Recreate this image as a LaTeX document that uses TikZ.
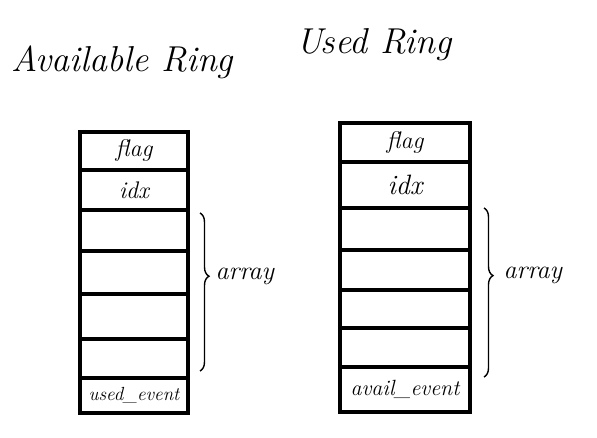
\documentclass[tikz,border=0pt]{standalone}
\usepackage{tikz}
\usetikzlibrary{positioning,calc,decorations.pathreplacing}
\usepackage{xcolor}

\tikzset{
  cell/.style={draw, line width=3.2pt, inner sep=0pt, outer sep=0pt, font=\fontsize{24}{26}\selectfont\itshape},
  ringtitle/.style={font=\fontsize{36}{40}\selectfont\itshape},
  arraybrace/.style={decorate, decoration={brace, amplitude=9pt, aspect=0.4}, line width=1.4pt},
  bracelabel/.style={font=\fontsize{26}{28}\selectfont\itshape, anchor=west}
}

\begin{document}
\begin{tikzpicture}[x=1pt, y=-1pt]
  \useasboundingbox (0,0) rectangle (597,438);

  % titles
  \node[ringtitle] (availtitle) at (122,62) {Available Ring};
  \node[ringtitle] (usedtitle) at (374,45) {Used Ring};

  % available ring
  \node[cell, minimum width=108pt, minimum height=38pt] (aflag) at (134,151) {flag};
  \node[cell, minimum width=108pt, minimum height=40pt, below=0pt of aflag] (aidx) {idx};
  \node[cell, minimum width=108pt, minimum height=41pt, below=0pt of aidx] (aarr1) {};
  \node[cell, minimum width=108pt, minimum height=43pt, below=0pt of aarr1] (aarr2) {};
  \node[cell, minimum width=108pt, minimum height=45pt, below=0pt of aarr2] (aarr3) {};
  \node[cell, minimum width=108pt, minimum height=39pt, below=0pt of aarr3] (aarr4) {};
  \node[cell, minimum width=108pt, minimum height=35pt, below=0pt of aarr4, font=\fontsize{19}{21}\selectfont\itshape] (aevent) {used\_event};

  \coordinate (abtop) at ([xshift=12pt,yshift=-3pt]aarr1.north east);
  \coordinate (abbot) at ([xshift=12pt,yshift=7pt]aarr4.south east);
  \draw[arraybrace] (abtop) -- (abbot);
  \node[bracelabel] (alabel) at ([xshift=12pt]$(abtop)!0.4!(abbot)$) {array};

  % used ring
  \node[cell, minimum width=130pt, minimum height=39pt] (uflag) at (405,142.5) {flag};
  \node[cell, minimum width=130pt, minimum height=46pt, below=0pt of uflag, font=\fontsize{28}{30}\selectfont\itshape] (uidx) {idx};
  \node[cell, minimum width=130pt, minimum height=42pt, below=0pt of uidx] (uarr1) {};
  \node[cell, minimum width=130pt, minimum height=40pt, below=0pt of uarr1] (uarr2) {};
  \node[cell, minimum width=130pt, minimum height=38pt, below=0pt of uarr2] (uarr3) {};
  \node[cell, minimum width=130pt, minimum height=39pt, below=0pt of uarr3] (uarr4) {};
  \node[cell, minimum width=130pt, minimum height=45pt, below=0pt of uarr4, font=\fontsize{22}{24}\selectfont\itshape] (uevent) {avail\_event};

  \coordinate (ubtop) at ([xshift=14pt]uarr1.north east);
  \coordinate (ubbot) at ([xshift=14pt,yshift=-10pt]uarr4.south east);
  \draw[arraybrace] (ubtop) -- (ubbot);
  \node[bracelabel] (ulabel) at ([xshift=16pt]$(ubtop)!0.4!(ubbot)$) {array};
\end{tikzpicture}
\end{document}
